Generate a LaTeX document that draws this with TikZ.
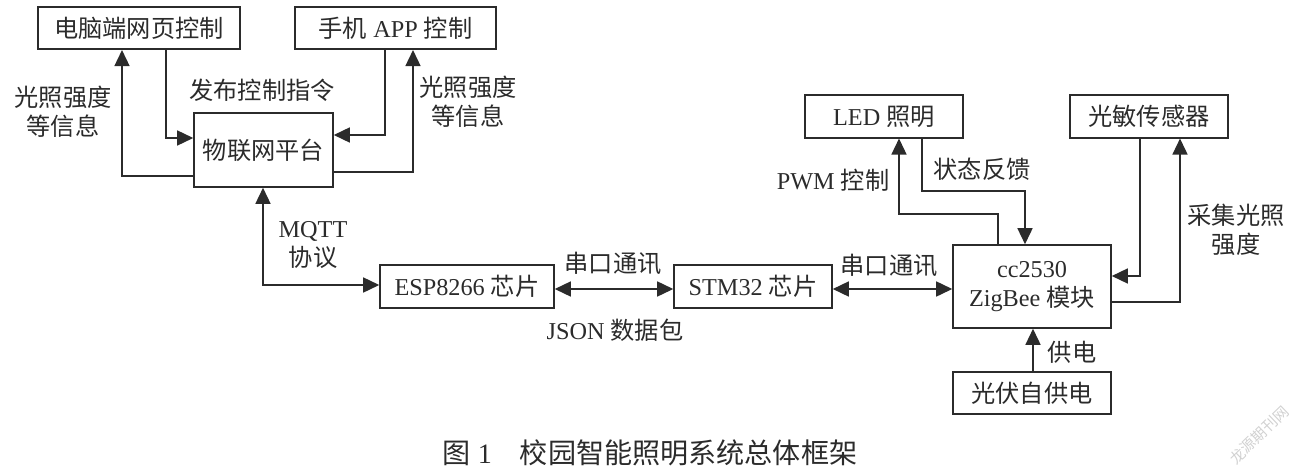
\documentclass[tikz,border=0pt]{standalone}
\usepackage{fontspec}
\setmainfont{Liberation Serif}
\newfontfamily\cjk{Noto Sans CJK SC}
\newcommand{\zh}[1]{{\cjk #1}}
\usetikzlibrary{arrows.meta}
\definecolor{ink}{HTML}{2B2B2B}
\tikzset{
      txt/.style={text=ink,align=center,inner sep=0pt,font=\fontsize{13.8}{16.5}\selectfont},
      box/.style={txt,draw=ink,line width=0.9pt,minimum height=0.85cm},
      link/.style={draw=ink,line width=0.85pt,-{Triangle[length=3.2mm,width=3mm]}},
      biglink/.style={draw=ink,line width=0.85pt,{Triangle[length=3.2mm,width=3mm]}-{Triangle[length=3.2mm,width=3mm]}}
}
\begin{document}
\begin{tikzpicture}[x=0.02cm,y=-0.02cm]
                  \useasboundingbox (0,0) rectangle (1300,473);
                  % top left group
                  \node[box,minimum width=4.04cm] (web) at (139,28) {\zh{电脑端网页控制}};
                  \node[box,minimum width=4.02cm] (app) at (395.5,28) {\zh{手机} APP \zh{控制}};
                  \node[box,minimum width=2.78cm,minimum height=1.48cm] (pc) at (263.5,150) {\zh{物联网平台}};
                  % middle row
                  \node[box,minimum width=3.48cm] (esp) at (467,286.5) {ESP8266 \zh{芯片}};
                  \node[box,minimum width=3.16cm] (stm) at (753,286.5) {STM32 \zh{芯片}};
                  % right group
                  \node[box,minimum width=3.16cm,minimum height=1.66cm] (zb) at (1032,286.5) {cc2530\\ZigBee \zh{模块}};
                  \node[box,minimum width=3.16cm] (pv) at (1032,393) {\zh{光伏自供电}};
                  \node[box,minimum width=3.16cm] (led) at (884,116.5) {LED \zh{照明}};
                  \node[box,minimum width=3.16cm] (sensor) at (1149,116.5) {\zh{光敏传感器}};

                  % connectors
                  \draw[link] (pc.west |- 0,176) -| (122,0 |- web.south);
                  \draw[link] (166,0 |- web.south) |- (pc.west |- 0,138);
                  \draw[link] (385,0 |- app.south) |- (pc.east |- 0,135);
                  \draw[link] (pc.east |- 0,172) -| (413,0 |- app.south);
                  \draw[biglink] (263,0 |- pc.south) |- (esp.west |- 0,285);
                  \draw[biglink] (esp.east |- 0,289) -- (stm.west |- 0,289);
                  \draw[biglink] (stm.east |- 0,289) -- (zb.west |- 0,289);
                  \draw[link] (998,0 |- zb.north) |- (899,214) -- (899,0 |- led.south);
                  \draw[link] (922,0 |- led.south) |- (1025,191) -- (1025,0 |- zb.north);
                  \draw[link] (1140,0 |- sensor.south) |- (zb.east |- 0,276);
                  \draw[link] (zb.east |- 0,302) -| (1180,0 |- sensor.south);
                  \draw[link] (1033,0 |- pv.north) -- (1033,0 |- zb.south);

                  % labels
                  \node[txt] (lblinfoa) at (63,112) {\zh{光照强度}\\\zh{等信息}};
                  \node[txt] (lblcmd) at (262,90) {\zh{发布控制指令}};
                  \node[txt] (lblinfob) at (468,102) {\zh{光照强度}\\\zh{等信息}};
                  \node[txt] (lblmqtt) at (313,245) {MQTT\\\zh{协议}};
                  \node[txt] (lbluarta) at (613,263) {\zh{串口通讯}};
                  \node[txt] (lbljson) at (615,330) {JSON \zh{数据包}};
                  \node[txt] (lbluartb) at (889,265) {\zh{串口通讯}};
                  \node[txt] (lblpwm) at (833,180) {PWM \zh{控制}};
                  \node[txt] (lblstate) at (982,169) {\zh{状态反馈}};
                  \node[txt] (lblsample) at (1236,230) {\zh{采集光照}\\\zh{强度}};
                  \node[txt] (lblpower) at (1072,352) {\zh{供电}};

                  % caption and watermark
                  \node[txt,font=\fontsize{16}{18}\selectfont] (caption) at (650,453) {\zh{图} 1\quad\zh{校园智能照明系统总体框架}};
                  \node[text=black!18,rotate=44,inner sep=0pt,font=\fontsize{8.5}{10}\selectfont] (mark) at (1259,435) {\zh{龙源期刊网}};
            \end{tikzpicture}
\end{document}
